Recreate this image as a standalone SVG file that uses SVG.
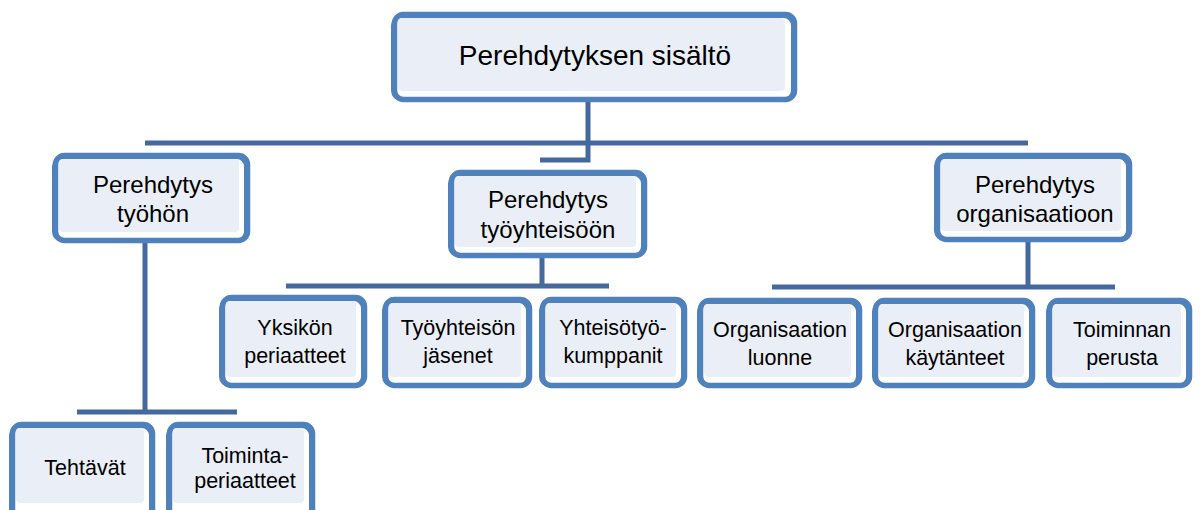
<svg xmlns="http://www.w3.org/2000/svg" width="1202" height="510" viewBox="0 0 1202 510">
<style>
.frame{fill:#ffffff;stroke:#4f81bd;stroke-width:5.5}
.frame2{fill:none;stroke:#4f81bd;stroke-width:3}
.inner{fill:#eaeff7}
.conn{fill:none;stroke:#44699e;stroke-width:5;stroke-linecap:butt}
text{font-family:"Liberation Sans",Arial,sans-serif;fill:#000;text-anchor:middle}
.t0{font-size:28px}
.t1{font-size:24px}
.t2{font-size:21.5px}
</style>
<rect width="1202" height="510" fill="#ffffff"/>
<g id="connectors">
<path class="conn" d="M588 102 V160 H540"/>
<path class="conn" d="M145 143 H1028"/>
<path class="conn" d="M145 243 V412 M77 412 H237"/>
<path class="conn" d="M542 258 V286 M286 286 H609"/>
<path class="conn" d="M1028 242 V287 M772 287 H1115"/>
</g>
<g id="n-root">
<rect class="frame" x="394.5" y="14.5" width="400" height="85" rx="9"/>
<rect class="frame2" x="392.5" y="16.5" width="400" height="83" rx="9"/>
<rect class="inner" x="398" y="18" width="387" height="73" rx="4"/>
<text class="t0" x="595" y="65">Perehdytyksen sisältö</text>
</g>
<g id="n-tyohon">
<rect class="frame" x="55.5" y="155.5" width="192" height="85" rx="9"/>
<rect class="frame2" x="53.5" y="157.5" width="192" height="83" rx="9"/>
<rect class="inner" x="59" y="159" width="180" height="73" rx="4"/>
<text class="t1" x="153" y="193">Perehdytys</text>
<text class="t1" x="153" y="222">työhön</text>
</g>
<g id="n-tyoyhteisoon">
<rect class="frame" x="451.5" y="172.5" width="193" height="83" rx="9"/>
<rect class="frame2" x="449.5" y="174.5" width="193" height="81" rx="9"/>
<rect class="inner" x="455" y="176" width="181" height="71" rx="4"/>
<text class="t1" x="548" y="208">Perehdytys</text>
<text class="t1" x="548" y="238">työyhteisöön</text>
</g>
<g id="n-organisaatioon">
<rect class="frame" x="937.5" y="155.5" width="192" height="84" rx="9"/>
<rect class="frame2" x="935.5" y="157.5" width="192" height="82" rx="9"/>
<rect class="inner" x="941" y="159" width="180" height="72" rx="4"/>
<text class="t1" x="1035" y="193">Perehdytys</text>
<text class="t1" x="1035" y="222">organisaatioon</text>
</g>
<g id="n-yksikon">
<rect class="frame" x="222.5" y="297.5" width="142" height="88" rx="9"/>
<rect class="frame2" x="220.5" y="299.5" width="142" height="86" rx="9"/>
<rect class="inner" x="226" y="301" width="130" height="76" rx="4"/>
<text class="t2" x="295" y="335">Yksikön</text>
<text class="t2" x="295" y="363">periaatteet</text>
</g>
<g id="n-jasenet">
<rect class="frame" x="385.5" y="299.5" width="144" height="86" rx="9"/>
<rect class="frame2" x="383.5" y="301.5" width="144" height="84" rx="9"/>
<rect class="inner" x="389" y="303" width="132" height="74" rx="4"/>
<text class="t2" x="458" y="335">Työyhteisön</text>
<text class="t2" x="458" y="363">jäsenet</text>
</g>
<g id="n-kumppanit">
<rect class="frame" x="542.5" y="299.5" width="142" height="86" rx="9"/>
<rect class="frame2" x="540.5" y="301.5" width="142" height="84" rx="9"/>
<rect class="inner" x="546" y="303" width="130" height="74" rx="4"/>
<text class="t2" x="613" y="335">Yhteisötyö-</text>
<text class="t2" x="613" y="363">kumppanit</text>
</g>
<g id="n-luonne">
<rect class="frame" x="700.5" y="300.5" width="159" height="85" rx="9"/>
<rect class="frame2" x="698.5" y="302.5" width="159" height="83" rx="9"/>
<rect class="inner" x="704" y="304" width="147" height="73" rx="4"/>
<text class="t2" x="780" y="337">Organisaation</text>
<text class="t2" x="780" y="365">luonne</text>
</g>
<g id="n-kaytanteet">
<rect class="frame" x="875.5" y="300.5" width="157" height="85" rx="9"/>
<rect class="frame2" x="873.5" y="302.5" width="157" height="83" rx="9"/>
<rect class="inner" x="879" y="304" width="145" height="73" rx="4"/>
<text class="t2" x="955" y="337">Organisaation</text>
<text class="t2" x="955" y="365">käytänteet</text>
</g>
<g id="n-perusta">
<rect class="frame" x="1049.5" y="300.5" width="140" height="85" rx="9"/>
<rect class="frame2" x="1047.5" y="302.5" width="140" height="83" rx="9"/>
<rect class="inner" x="1053" y="304" width="128" height="73" rx="4"/>
<text class="t2" x="1122" y="337">Toiminnan</text>
<text class="t2" x="1122" y="365">perusta</text>
</g>
<g id="n-tehtavat">
<rect class="frame" x="12.5" y="424.5" width="140" height="95" rx="9"/>
<rect class="frame2" x="10.5" y="426.5" width="140" height="93" rx="9"/>
<rect class="inner" x="16" y="428" width="128" height="75" rx="4"/>
<text class="t2" x="85" y="475">Tehtävät</text>
</g>
<g id="n-toimintaperiaatteet">
<rect class="frame" x="169.5" y="424.5" width="143" height="95" rx="9"/>
<rect class="frame2" x="167.5" y="426.5" width="143" height="93" rx="9"/>
<rect class="inner" x="173" y="428" width="131" height="75" rx="4"/>
<text class="t2" x="245" y="463">Toiminta-</text>
<text class="t2" x="245" y="488">periaatteet</text>
</g>
</svg>
